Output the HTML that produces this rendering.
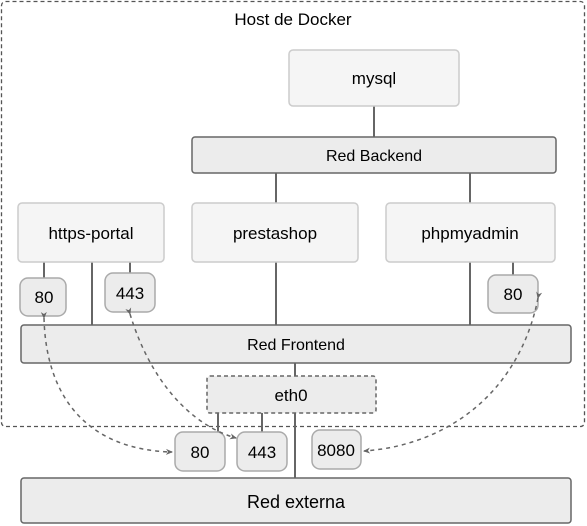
<!DOCTYPE html>
<html><head><style>
body{margin:0;background:#fff;}
svg{display:block;font-family:"Liberation Sans",sans-serif;}
</style></head><body>
<svg width="587" height="526" viewBox="0 0 587 526">
<defs><marker id="a" markerWidth="8" markerHeight="8" refX="6" refY="4" orient="auto" markerUnits="userSpaceOnUse"><path d="M0,1 L7,4 L0,7 L2,4 Z" fill="#666"/></marker></defs>
<rect x="1.5" y="1.5" width="583" height="425" rx="4" fill="none" stroke="#555" stroke-width="1.3" stroke-dasharray="4,3"/>
<text x="293" y="25" font-size="17" text-anchor="middle" fill="#000">Host de Docker</text>
<g stroke="#666" stroke-width="2">
<line x1="374" y1="106" x2="374" y2="137"/>
<line x1="276" y1="173" x2="276" y2="203"/>
<line x1="470" y1="173" x2="470" y2="203"/>
<line x1="44" y1="262" x2="44" y2="278"/>
<line x1="92" y1="262" x2="92" y2="325"/>
<line x1="130" y1="262" x2="130" y2="273"/>
<line x1="276" y1="262" x2="276" y2="325"/>
<line x1="470" y1="262" x2="470" y2="325"/>
<line x1="513" y1="262" x2="513" y2="275"/>
<line x1="295" y1="363" x2="295" y2="376"/>
<line x1="218" y1="413" x2="218" y2="432"/>
<line x1="262" y1="413" x2="262" y2="432"/>
<line x1="295" y1="413" x2="295" y2="478"/>
</g>
<g fill="#f5f5f5" stroke="#ccc" stroke-width="1.5">
<rect x="289" y="50" width="170" height="56" rx="4"/>
<rect x="18" y="203" width="146" height="59" rx="4"/>
<rect x="192" y="203" width="166" height="59" rx="4"/>
<rect x="386" y="203" width="169" height="59" rx="4"/>
</g>
<g fill="#ececec" stroke="#666" stroke-width="1.5">
<rect x="192" y="137" width="364" height="36" rx="3"/>
<rect x="21" y="325" width="550" height="38" rx="3"/>
<rect x="21" y="478" width="550" height="45" rx="3"/>
</g>
<rect x="207" y="376" width="169" height="37" rx="3" fill="#ececec" stroke="#666" stroke-width="1.5" stroke-dasharray="4,3"/>
<g fill="#ececec" stroke="#aaa" stroke-width="1.5">
<rect x="20" y="278" width="46" height="38" rx="8"/>
<rect x="105" y="273" width="50" height="39" rx="8"/>
<rect x="488" y="275" width="50" height="38" rx="8"/>
<rect x="175" y="432" width="50" height="39" rx="8"/>
<rect x="237" y="432" width="50" height="39" rx="8"/>
<rect x="312" y="430" width="49" height="39" rx="8"/>
</g>
<g fill="none" stroke="#666" stroke-width="1.5" stroke-dasharray="4,4">
<path d="M44,318 C46,400 90,450 172,452" marker-start="url(#a)" marker-end="url(#a)"/>
<path d="M130,314 C150,380 190,425 236,438" marker-start="url(#a)" marker-end="url(#a)"/>
<path d="M538,298 C520,390 450,445 364,451" marker-start="url(#a)" marker-end="url(#a)"/>
</g>
<g font-size="17" text-anchor="middle" fill="#000">
<text x="374" y="84">mysql</text>
<text x="374" y="161" font-size="16">Red Backend</text>
<text x="91" y="239">https-portal</text>
<text x="275" y="239">prestashop</text>
<text x="470" y="239">phpmyadmin</text>
<text x="44" y="303">80</text>
<text x="130" y="299">443</text>
<text x="513" y="300">80</text>
<text x="296" y="350" font-size="16">Red Frontend</text>
<text x="291" y="401">eth0</text>
<text x="200" y="458">80</text>
<text x="262" y="458">443</text>
<text x="336" y="456">8080</text>
<text x="296" y="508" font-size="18">Red externa</text>
</g>
</svg>
</body></html>
